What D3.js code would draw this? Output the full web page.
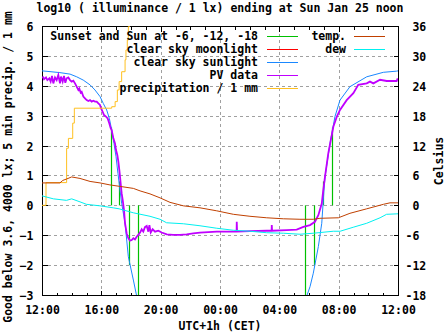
<!DOCTYPE html>
<html><head><meta charset="utf-8">
<script src="https://cdn.jsdelivr.net/npm/d3@7"></script>
<style>
body{margin:0;background:#fff}
text{font-family:"DejaVu Sans Mono",monospace;font-weight:bold;font-size:11.5px;fill:#000}
</style>
</head><body><svg id="c" width="447" height="335"></svg>
<script>
const title = "log10 ( illuminance / 1 lx) ending at Sun Jan 25 noon";
const yLabel = "Good below 3.6, 4000 lx; 5 min precip. / 1 mm";
const y2Label = "Celsius";
const xLabel = "UTC+1h (CET)";
const xTickHours = [0,4,8,12,16,20,24];
const xTickLabels = ["12:00","16:00","20:00","00:00","04:00","08:00","12:00"];
const xMinorHours = d3.range(0,25,1);
const yTicks = [-3,-2,-1,0,1,2,3,4,5,6];
const y2Ticks = [-18,-12,-6,0,6,12,18,24,30,36];

// hours after 12:00, log10 value
const sunEvents = [[4.63,2.6],[5.21,0.8],[5.89,-2.0],[6.49,-3.5],[17.76,-3.5],[18.36,-2.0],[18.92,0.8],[19.57,2.6]];
const moonlight = [];
const sunlight = [[0,4.5],[1.21,4.44],[1.89,4.39],[2.34,4.3],[2.78,4.19],[3.24,4.03],[3.57,3.86],[3.91,3.64],[4.13,3.41],[4.36,3.19],[4.54,2.91],[4.70,2.52],[4.85,2.08],[4.99,1.63],[5.12,1.07],[5.26,0.51],[5.37,0.07],[5.6,-0.6],[5.82,-1.72],[6.16,-2.5],[6.38,-3.03],[6.6,-3.6],[17.6,-3.6],[17.85,-3.03],[18.07,-2.72],[18.29,-2.27],[18.63,-1.38],[18.86,-0.6],[19.01,0.51],[19.08,0.96],[19.42,2.08],[19.75,2.97],[20.09,3.52],[20.76,3.97],[21.89,4.3],[23.01,4.45],[23.91,4.49],[24,4.5]];
const pv = [[0.045,4.31],[0.135,4.22],[0.27,4.28],[0.36,4.19],[0.495,4.25],[0.585,4.14],[0.674,4.33],[0.764,4.08],[0.877,4.28],[0.989,4.19],[1.1,4.36],[1.213,4.08],[1.28,4.31],[1.393,4.14],[1.483,4.33],[1.573,4.10],[1.663,4.25],[1.775,4.28],[1.888,4.19],[2.0,4.14],[2.112,4.17],[2.225,4.08],[2.337,3.97],[2.45,3.86],[2.517,3.91],[2.607,3.77],[2.674,3.80],[2.787,3.64],[2.899,3.58],[3.012,3.52],[3.124,3.49],[3.237,3.52],[3.349,3.47],[3.461,3.50],[3.574,3.47],[3.686,3.47],[3.799,3.41],[3.911,3.36],[3.978,3.25],[4.09,3.13],[4.18,3.02],[4.315,2.97],[4.428,2.91],[4.54,2.74],[4.63,2.58],[4.697,2.52],[4.81,2.24],[4.922,2.07],[4.99,1.85],[5.08,1.68],[5.147,1.46],[5.214,1.18],[5.259,0.96],[5.326,0.62],[5.371,0.40],[5.439,0.18],[5.484,0.01],[5.529,-0.16],[5.596,-0.60],[5.71,-0.94],[5.82,-1.10],[5.93,-1.18],[6.05,-1.16],[6.16,-1.10],[6.27,-1.14],[6.38,-1.05],[6.49,-0.99],[6.61,-0.91],[6.72,-0.80],[6.83,-0.88],[6.94,-0.73],[7.06,-0.69],[7.17,-0.88],[7.24,-0.66],[7.33,-0.91],[7.46,-0.80],[7.62,-0.88],[7.84,-0.85],[8.07,-0.91],[8.41,-0.97],[8.85,-0.99],[9.30,-0.99],[9.75,-0.97],[10.2,-0.94],[10.65,-0.91],[11.78,-0.88],[12.9,-0.88],[13.12,-0.88],[13.13,-0.55],[13.15,-0.88],[14.02,-0.86],[15.15,-0.85],[15.48,-0.85],[15.49,-0.66],[15.51,-0.85],[16.5,-0.83],[17.17,-0.81],[17.62,-0.72],[18.07,-0.66],[18.4,-0.55],[18.63,-0.33],[18.86,0.06],[18.96,0.5],[19.08,0.96],[19.3,1.74],[19.64,2.63],[19.87,2.96],[20.09,3.19],[20.54,3.52],[20.99,3.75],[21.32,4.03],[21.89,4.08],[22.11,4.14],[22.34,4.08],[22.79,4.2],[23.24,4.16],[23.91,4.16],[23.98,4.25]];
const precipitation = [[0,0],[0.27,0.76],[1.66,1.91],[1.78,2.24],[2.07,2.75],[2.18,3.25],[4.7,3.3],[4.93,3.47],[5.08,3.86],[5.2,4.14],[5.37,4.47],[5.6,4.87],[5.66,5.2],[5.75,5.53],[5.82,5.98],[5.9,6.5]];
// Celsius
const temp = [[0,4.5],[1.21,4.5],[1.4,5.0],[1.67,5.3],[2.0,5.7],[2.56,5.4],[3.24,4.8],[3.91,4.5],[4.58,4.1],[5.26,3.8],[6.16,3.4],[6.61,2.9],[7.28,2.3],[7.96,1.5],[8.63,0.6],[9.53,-0.1],[10.65,-0.5],[11.78,-1.1],[12.9,-1.8],[14.02,-2.2],[15.15,-2.5],[16.27,-2.7],[17.39,-2.8],[18.29,-2.8],[18.74,-2.6],[19.98,-2.5],[20.76,-1.6],[21.89,-0.7],[23.01,0.2],[23.46,0.5],[24,0.5]];
const dew = [[0,1.9],[0.77,1.3],[1.65,1.0],[2.0,1.3],[2.56,0.7],[3.0,0.2],[3.91,-0.1],[4.8,-0.5],[5.2,-0.7],[6.16,-1.5],[7.28,-2.2],[7.96,-2.8],[8.4,-3.5],[9.53,-3.7],[10.65,-4.1],[11.78,-4.6],[12.9,-5.0],[14.02,-5.2],[15.15,-5.5],[16.27,-5.6],[17.39,-5.8],[18.29,-5.6],[19.64,-5.2],[20.1,-5.2],[20.98,-4.4],[21.89,-3.6],[22.79,-2.5],[23.23,-1.8],[24,-1.7]];

const legendNames = ["Sunset and Sun at -6, -12, -18","clear sky moonlight","clear sky sunlight","PV data","precipitation / 1 mm","temp.","dew"];
const legendColors = ["#00c000","#ff0000","#1a88ff","#c000ff","#ffc020","#c04000","#00f0f0"];

const svg = d3.select("#c");
const L=42, R=398, T=26, B=295;
const x = d3.scaleLinear().domain([0,24]).range([L,R]);
const y = d3.scaleLinear().domain([-3,6]).range([B,T]);
const y2 = d3.scaleLinear().domain([-18,36]).range([B,T]);

svg.append("rect").attr("width",447).attr("height",335).attr("fill","#fff");

// grid
const grid = svg.append("g").attr("stroke","#a0a0a0").attr("stroke-dasharray","3,3").attr("shape-rendering","crispEdges");
xTickHours.filter(h=>h>0&&h<24).forEach(h=>{
  grid.append("line").attr("x1",Math.round(x(h))+0.5).attr("x2",Math.round(x(h))+0.5).attr("y1",B).attr("y2",T);
});
yTicks.filter(v=>v>-3&&v<6).forEach(v=>{
  grid.append("line").attr("y1",Math.round(y(v))+0.5).attr("y2",Math.round(y(v))+0.5).attr("x1",L).attr("x2",R);
});

// axes (ticks inward)
const axB = svg.append("g").attr("transform",`translate(0,${B+0.5})`)
  .call(d3.axisBottom(x).tickValues(xTickHours).tickFormat((d,i)=>xTickLabels[i]).tickSizeInner(-5).tickSizeOuter(0).tickPadding(14));
const axBm = svg.append("g").attr("transform",`translate(0,${B+0.5})`)
  .call(d3.axisBottom(x).tickValues(xMinorHours).tickFormat("").tickSizeInner(-3).tickSizeOuter(0));
const axT = svg.append("g").attr("transform",`translate(0,${T+0.5})`)
  .call(d3.axisTop(x).tickValues(xTickHours).tickFormat("").tickSizeInner(-5).tickSizeOuter(0));
const axTm = svg.append("g").attr("transform",`translate(0,${T+0.5})`)
  .call(d3.axisTop(x).tickValues(xMinorHours).tickFormat("").tickSizeInner(-3).tickSizeOuter(0));
const axL = svg.append("g").attr("transform",`translate(${L+0.5},0)`)
  .call(d3.axisLeft(y).tickValues(yTicks).tickFormat(d3.format("d")).tickSizeInner(-5).tickSizeOuter(0).tickPadding(9));
const axR = svg.append("g").attr("transform",`translate(${R+0.5},0)`)
  .call(d3.axisRight(y2).tickValues(y2Ticks).tickFormat(d=> (d<0?String(d):"\u00a0"+d)).tickSizeInner(-5).tickSizeOuter(0).tickPadding(7));
[axB,axBm,axT,axTm,axL,axR].forEach(a=>{
  a.select(".domain").remove();
  a.selectAll("line").attr("stroke","#000").attr("shape-rendering","crispEdges");
  a.selectAll("text").attr("font-family",null).attr("font-size",null).attr("fill","#000");
});
axB.selectAll("text").attr("dy",null).attr("y",18);
axL.selectAll(".tick text").attr("dy",null).attr("y",4.5);
axR.selectAll(".tick text").attr("dy",null).attr("y",4.5).attr("text-anchor","start");

// frame
svg.append("rect").attr("x",L+0.5).attr("y",T+0.5).attr("width",R-L).attr("height",B-T)
  .attr("fill","none").attr("stroke","#000").attr("shape-rendering","crispEdges");

// clip
svg.append("clipPath").attr("id","clip").append("rect").attr("x",L).attr("y",T).attr("width",R-L).attr("height",B-T);
const plot = svg.append("g").attr("clip-path","url(#clip)");

const line = d3.line().x(d=>x(d[0])).y(d=>y(d[1]));
const line2 = d3.line().x(d=>x(d[0])).y(d=>y2(d[1]));
const stepLine = d3.line().x(d=>x(d[0])).y(d=>y(d[1])).curve(d3.curveStepAfter);

// sun events
plot.selectAll("line.sun").data(sunEvents).enter().append("line")
  .attr("x1",d=>Math.round(x(d[0]))+0.5).attr("x2",d=>Math.round(x(d[0]))+0.5)
  .attr("y1",y(0)).attr("y2",d=>y(d[1]))
  .attr("stroke",legendColors[0]).attr("stroke-width",1.2);
if (moonlight.length) plot.append("path").attr("d",line(moonlight)).attr("fill","none").attr("stroke",legendColors[1]);
plot.append("path").attr("d",line(sunlight)).attr("fill","none").attr("stroke",legendColors[2]).attr("stroke-width",1);
plot.append("path").attr("d",line(pv)).attr("fill","none").attr("stroke",legendColors[3]).attr("stroke-width",1.8);
plot.append("path").attr("d",stepLine(precipitation)).attr("fill","none").attr("stroke",legendColors[4]).attr("stroke-width",1);
plot.append("path").attr("d",line2(temp)).attr("fill","none").attr("stroke",legendColors[5]).attr("stroke-width",1);
plot.append("path").attr("d",line2(dew)).attr("fill","none").attr("stroke",legendColors[6]).attr("stroke-width",1);

// legend
const rows = [36,49,62,75,88];
legendNames.forEach((n,i)=>{
  const col = i<5?0:1, r = i<5?i:i-5;
  const tx = col===0?258:346, lx1 = col===0?267:354, lx2 = col===0?298:385;
  const yy = rows[r];
  svg.append("text").attr("x",tx).attr("y",yy+4).attr("text-anchor","end").text(n);
  svg.append("line").attr("x1",lx1).attr("x2",lx2).attr("y1",yy+0.5).attr("y2",yy+0.5)
    .attr("stroke",legendColors[i]).attr("stroke-width",i===3?1.8:1).attr("shape-rendering","crispEdges");
});

// titles
svg.append("text").attr("x",220).attr("y",12).attr("text-anchor","middle").text(title);
svg.append("text").attr("x",220).attr("y",330).attr("text-anchor","middle").text(xLabel);
svg.append("text").attr("transform","translate(12,167) rotate(-90)").attr("text-anchor","middle").text(yLabel);
svg.append("text").attr("transform","translate(443,161) rotate(-90)").attr("text-anchor","middle").text(y2Label);
</script></body></html>
